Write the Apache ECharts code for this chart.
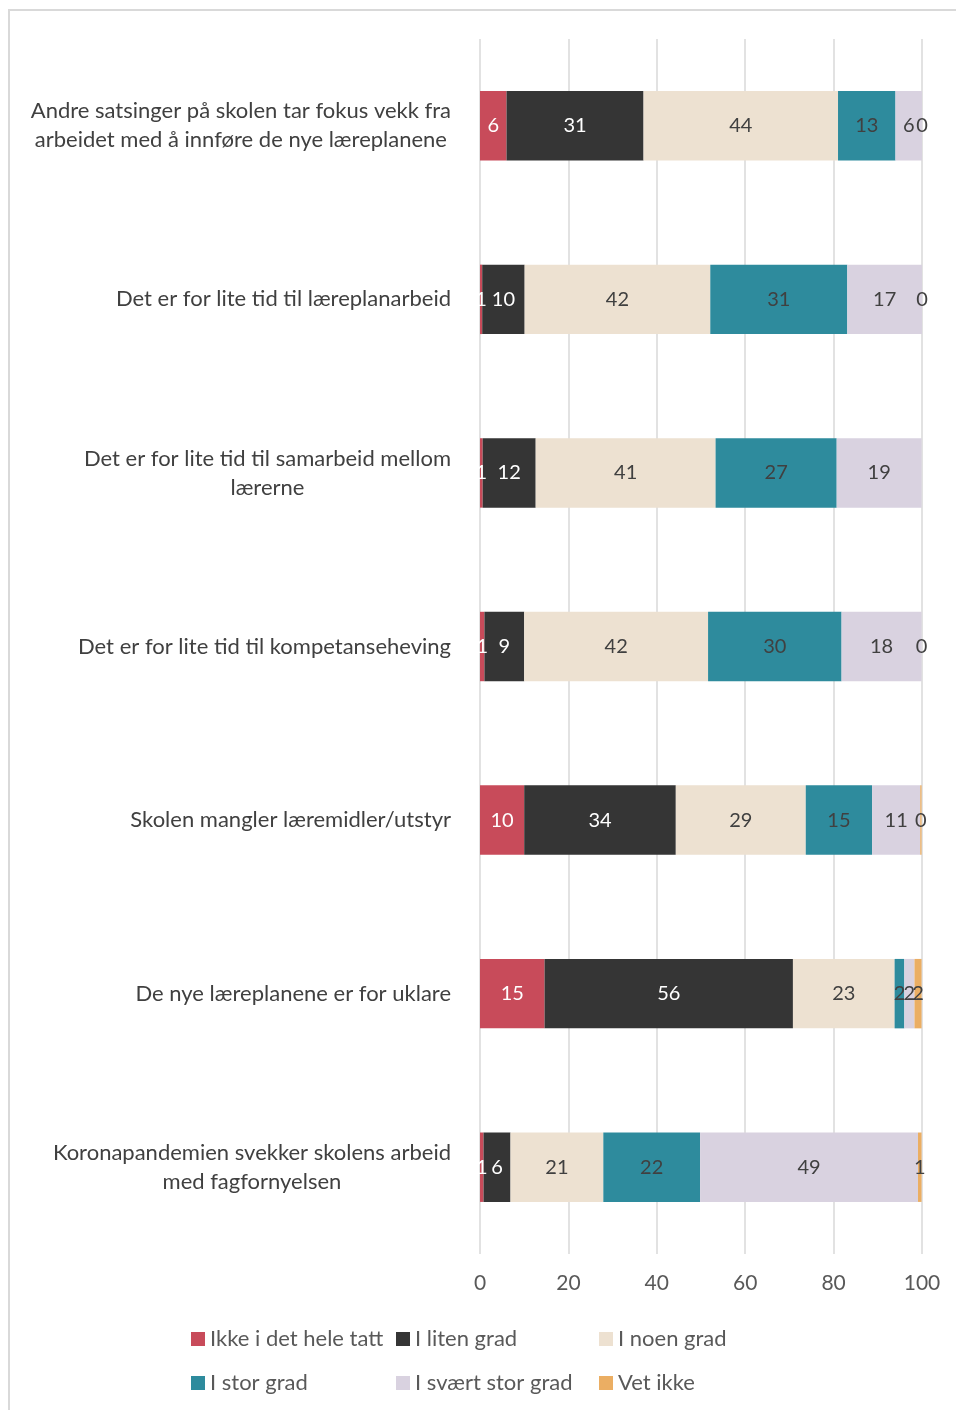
<!DOCTYPE html>
<html>
<head>
<meta charset="utf-8">
<script src="https://cdn.jsdelivr.net/npm/echarts@6/dist/echarts.min.js"></script>
<style>
  html, body { margin: 0; padding: 0; background: #fff; }
  .frame { position: absolute; left: 8px; top: 9px; width: 970px; height: 1430px; border: 2px solid #d9d9d9; box-sizing: border-box; }
  #chart { position: absolute; left: 0; top: 0; width: 956px; height: 1410px; }
</style>
</head>
<body>
<div class="frame"></div>
<div id="chart"></div>
<script>
// statements, top to bottom
const categories = [
  'Andre satsinger på skolen tar fokus vekk fra\narbeidet med å innføre de nye læreplanene',
  'Det er for lite tid til læreplanarbeid',
  'Det er for lite tid til samarbeid mellom\nlærerne',
  'Det er for lite tid til kompetanseheving',
  'Skolen mangler læremidler/utstyr',
  'De nye læreplanene er for uklare',
  'Koronapandemien svekker skolens arbeid\nmed fagfornyelsen'
]

const seriesNames = ['Ikke i det hele tatt', 'I liten grad', 'I noen grad', 'I stor grad', 'I svært stor grad', 'Vet ikke']

// percent
const ikke      = [6,  0.5, 0.6, 1.0, 10.0, 14.6, 0.8]
const liten     = [31, 9.6, 12.0, 9.0, 34.3, 56.2, 6.1]
const noen      = [44, 42.0, 40.7, 41.6, 29.4, 23.0, 21.0]
const stor      = [13, 31.0, 27.4, 30.2, 15.0, 2.2, 21.9]
const svaertStor = [6, 16.9, 19.2, 18.1, 10.9, 2.3, 49.3]
const vetIkke   = [0,  0,   null, 0,   0.3, 1.6, 0.8]

const xTicks = { min: 0, max: 100, interval: 20 }

const colors = ['#c84b5a', '#353535', '#ede1d1', '#2e8b9d', '#d9d2e0', '#ebae63']
const labelColors = ['#ffffff', '#ffffff', '#404040', '#404040', '#404040', '#404040']
const FONT = 'Lato'

const chart = echarts.init(document.getElementById('chart'))

const allValues = [ikke, liten, noen, stor, svaertStor, vetIkke]

const series = allValues.map((vals, i) => ({
  name: seriesNames[i],
  type: 'bar',
  stack: 'total',
  barCategoryGap: '60%',
  itemStyle: { color: colors[i] },
  label: {
    show: true,
    position: 'inside',
    color: labelColors[i],
    fontFamily: FONT,
    fontSize: 20,
    formatter: (p) => Math.round(p.value)
  },
  emphasis: { disabled: true },
  data: vals
}))

const legendText = { color: '#595959', fontFamily: FONT, fontSize: 22 }
const legendCol = (left, names) => ({
  orient: 'vertical',
  left: left,
  top: 1323,
  itemGap: 22,
  itemWidth: 14,
  itemHeight: 14,
  icon: 'rect',
  selectedMode: false,
  textStyle: legendText,
  data: names
})

const option = {
  animation: false,
  grid: { left: 480, right: 34, top: 39, bottom: 156, containLabel: false },
  legend: [
    legendCol(186, [seriesNames[0], seriesNames[3]]),
    legendCol(391, [seriesNames[1], seriesNames[4]]),
    legendCol(594, [seriesNames[2], seriesNames[5]])
  ],
  xAxis: {
    type: 'value',
    min: xTicks.min,
    max: xTicks.max,
    interval: xTicks.interval,
    axisLine: { show: false },
    axisTick: { show: false },
    axisLabel: { color: '#595959', fontFamily: FONT, fontSize: 21, margin: 19 },
    splitLine: { lineStyle: { color: '#d9d9d9', width: 1.5 } }
  },
  yAxis: {
    type: 'category',
    inverse: true,
    data: categories,
    axisLine: { show: false },
    axisTick: { show: false },
    axisLabel: {
      margin: 29,
      align: 'right',
      formatter: (v) => v.split('\n').map(l => '{c|' + l + '}').join('\n'),
      rich: {
        c: { align: 'center', color: '#404040', fontFamily: FONT, fontSize: 22, lineHeight: 29 }
      }
    }
  },
  series: series
}

chart.setOption(option)
</script>
</body>
</html>
